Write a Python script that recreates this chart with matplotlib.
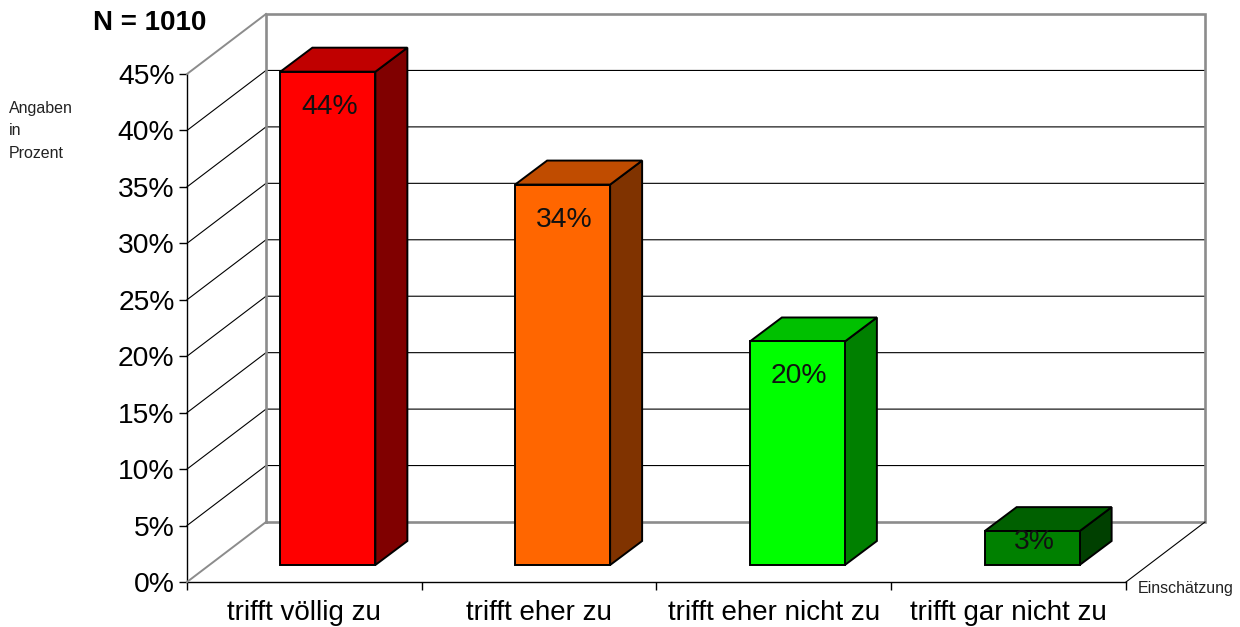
# -*- coding: utf-8 -*-
import matplotlib
matplotlib.use('Agg')
import matplotlib.pyplot as plt
from matplotlib.patches import Polygon

plt.rcParams['font.family'] = ['Liberation Sans', 'DejaVu Sans']

categories = ['trifft völlig zu', 'trifft eher zu', 'trifft eher nicht zu', 'trifft gar nicht zu']
values = [43.7, 33.7, 19.8, 3.0]
bar_labels = ['44%', '34%', '20%', '3%']
y_ticks = [0, 5, 10, 15, 20, 25, 30, 35, 40, 45]
front_colors = ['#ff0000', '#ff6600', '#00ff00', '#008000']
top_colors = ['#c00000', '#c04c00', '#00c000', '#006000']
side_colors = ['#800000', '#803300', '#008000', '#004000']

W, H = 1240, 627
fig = plt.figure(figsize=(W / 100, H / 100), dpi=100)
# front plane of the fake 3d box, everything else is offset from it
left, right, bottom, top = 187, 1126, 582, 74
ax = fig.add_axes([left / W, 1 - bottom / H, (right - left) / W, (bottom - top) / H])
ax.set_xlim(0, 4)
ax.set_ylim(0, 45)
ax.patch.set_visible(False)

px_x = 4 / (right - left)
px_y = 45 / (bottom - top)
DX = 79 * px_x
DY = 60 * px_y
GREY = '#8c8c8c'

for s in ['top', 'right']:
    ax.spines[s].set_visible(False)
for s in ['left', 'bottom']:
    ax.spines[s].set_linewidth(1.0)
    ax.spines[s].set_zorder(1)

# grid on side wall and back wall
for v in y_ticks[1:-1]:
    ax.plot([0, DX, 4 + DX], [v, v + DY, v + DY], color='black', lw=0.8, clip_on=False, zorder=1)

# walls
ax.plot([DX, 4 + DX, 4 + DX, DX, DX], [DY, DY, 45 + DY, 45 + DY, DY],
        color=GREY, lw=1.9, clip_on=False, zorder=2, solid_joinstyle='miter')
ax.plot([0, DX], [45, 45 + DY], color=GREY, lw=1.4, clip_on=False, zorder=2)
ax.plot([0, DX], [0, DY], color=GREY, lw=1.4, clip_on=False, zorder=2)
ax.plot([4, 4 + DX], [0, DY], color='black', lw=0.8, clip_on=False, zorder=2)

# bars
bar_w = 95 * px_x
dep_x0, dep_y0 = 23.5 * px_x, 17 * px_y
dep_x, dep_y = 32 * px_x, 24 * px_y
for i, v in enumerate(values):
    x0 = i + 0.5 - bar_w / 2 + dep_x0
    x1 = x0 + bar_w
    y0 = dep_y0
    y1 = v + dep_y0
    kw = dict(edgecolor='black', lw=1.4, joinstyle='miter', clip_on=False, zorder=3)
    ax.add_patch(Polygon([(x1, y0), (x1 + dep_x, y0 + dep_y), (x1 + dep_x, y1 + dep_y), (x1, y1)],
                         facecolor=side_colors[i], **kw))
    ax.add_patch(Polygon([(x0, y1), (x1, y1), (x1 + dep_x, y1 + dep_y), (x0 + dep_x, y1 + dep_y)],
                         facecolor=top_colors[i], **kw))
    ax.add_patch(Polygon([(x0, y0), (x1, y0), (x1, y1), (x0, y1)],
                         facecolor=front_colors[i], **kw))
    # small bar: label sits close under the top edge
    drop = 11 if v < 5 else 35
    ax.text((x0 + x1) / 2 + 2 * px_x, y1 - drop * px_y, bar_labels[i], ha='center', va='center',
            fontsize=20.3, color='#111111', zorder=4, clip_on=False)

# axes ticks
ax.set_yticks(y_ticks)
ax.set_yticklabels([f'{t}%' for t in y_ticks], fontsize=20.3)
ax.set_xticks([0, 1, 2, 3, 4])
ax.set_xticklabels([])
ax.tick_params(axis='y', length=6, width=1.0, pad=3)
ax.tick_params(axis='x', length=6, width=1.0)
for i, c in enumerate(categories):
    ax.text(i + 0.5, -31.5 * px_y, c, ha='center', va='center', fontsize=20, clip_on=False)

fig.text(93 / W, 1 - 23 / H, 'N = 1010', fontsize=20, fontweight='bold', ha='left', va='center')
fig.text(9 / W, 1 - 109 / H, 'Angaben', fontsize=11.5, ha='left', va='center', color='#222222')
fig.text(9 / W, 1 - 131 / H, 'in', fontsize=11.5, ha='left', va='center', color='#222222')
fig.text(9 / W, 1 - 153 / H, 'Prozent', fontsize=11.5, ha='left', va='center', color='#222222')
fig.text(1138 / W, 1 - 589 / H, 'Einschätzung', fontsize=11.5, ha='left', va='center', color='#222222')

fig.savefig('out.png', dpi=100)
